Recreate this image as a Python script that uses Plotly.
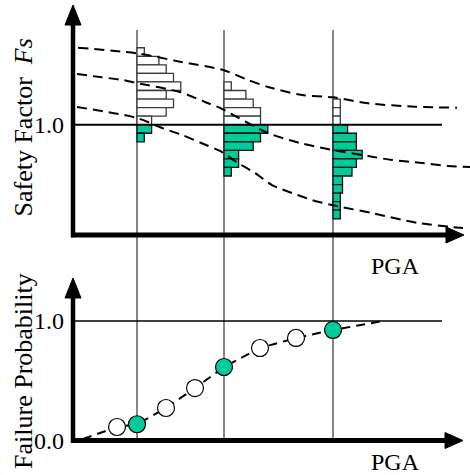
import plotly.graph_objects as go

# PGA values of the three sampled ground motions
PGA_LEVELS = [0.64, 1.51, 2.60]

# Safety-factor histograms at each PGA level, counts listed from the top bin down
SAFE_COUNTS = [
    [1, 3, 4, 5, 6, 4, 5, 4, 2],
    [1, 3, 4, 5, 5],
    [1, 1, 1],
]
FAIL_COUNTS = [
    [2, 1],
    [6, 5, 4, 2, 2, 1],
    [2, 3.2, 3.2, 4, 3.2, 2.6, 1.3, 1.3, 1, 1, 1],
]
FS_BIN = 0.0775
FS_LIMIT = 1.0

# Safety factor versus PGA trend curves
UPPER_PGA = [0.05, 0.64, 1.07, 1.50, 1.75, 1.95, 2.29, 2.60, 2.95, 3.42, 3.84]
UPPER_FS = [1.698, 1.647, 1.571, 1.496, 1.406, 1.342, 1.269, 1.248, 1.194, 1.163, 1.154]

MIDDLE_PGA = [0.04, 0.27, 0.50, 0.64, 1.07, 1.32, 1.47, 1.95, 2.27, 2.59, 2.95, 3.19, 3.49, 3.75, 3.97]
MIDDLE_FS = [1.460, 1.432, 1.405, 1.378, 1.296, 1.206, 1.152, 0.925, 0.834, 0.771, 0.716, 0.680, 0.653, 0.626, 0.617]

LOWER_PGA = [0.04, 0.64, 0.89, 1.09, 1.33, 1.47, 1.65, 1.82, 1.99, 2.19, 2.39, 2.59, 2.99, 3.45, 3.90]
LOWER_FS = [1.160, 1.061, 0.970, 0.907, 0.816, 0.762, 0.653, 0.562, 0.453, 0.381, 0.317, 0.272, 0.199, 0.109, 0.063]

# Failure probability curve
OPEN_PGA = [0.44, 0.93, 1.22, 1.87, 2.23]
OPEN_P = [0.113, 0.272, 0.439, 0.774, 0.858]
LEVEL_P = [0.136, 0.615, 0.925]
CURVE_START = (0.10, 0.013)
CURVE_END = (3.10, 1.0)

GREEN = "#00cc99"
SERIF = "Liberation Serif"
HIST_UNIT = 0.073  # PGA-axis length of one histogram count

fig = go.Figure()

# histograms (bars grow to the right of each PGA level)
for level, safe, fail in zip(PGA_LEVELS, SAFE_COUNTS, FAIL_COUNTS):
    n = len(safe)
    safe_y = [FS_LIMIT + FS_BIN * (n - 1 - k + 0.5) for k in range(n)]
    fail_y = [FS_LIMIT - FS_BIN * (k + 0.5) for k in range(len(fail))]
    fig.add_trace(go.Bar(
        orientation="h", y=safe_y, x=[c * HIST_UNIT for c in safe],
        base=[level] * n, width=FS_BIN, yaxis="y",
        marker=dict(color="white", line=dict(color="#3a3a3a", width=1.3)),
    ))
    fig.add_trace(go.Bar(
        orientation="h", y=fail_y, x=[c * HIST_UNIT for c in fail],
        base=[level] * len(fail), width=FS_BIN, yaxis="y",
        marker=dict(color=GREEN, line=dict(color="#111111", width=1.3)),
    ))

# dashed FS trend curves
for xs, ys in [(UPPER_PGA, UPPER_FS), (MIDDLE_PGA, MIDDLE_FS), (LOWER_PGA, LOWER_FS)]:
    fig.add_trace(go.Scatter(
        x=xs, y=ys, mode="lines", yaxis="y",
        line=dict(color="black", width=2, dash="10px,6px", shape="spline", smoothing=0.8),
    ))

# failure probability curve
pts = sorted([CURVE_START, CURVE_END] + list(zip(OPEN_PGA, OPEN_P)) + list(zip(PGA_LEVELS, LEVEL_P)))
fig.add_trace(go.Scatter(
    x=[p[0] for p in pts], y=[p[1] for p in pts], mode="lines", yaxis="y2",
    line=dict(color="black", width=2, dash="9px,6px"),
))
fig.add_trace(go.Scatter(
    x=OPEN_PGA, y=OPEN_P, mode="markers", yaxis="y2",
    marker=dict(size=17, color="white", line=dict(color="black", width=1.2)),
))
fig.add_trace(go.Scatter(
    x=PGA_LEVELS, y=LEVEL_P, mode="markers", yaxis="y2",
    marker=dict(size=17, color=GREEN, line=dict(color="black", width=1.2)),
))

shapes = []
# vertical guide lines through both panels
for level in PGA_LEVELS:
    shapes.append(dict(type="line", xref="x", yref="y2", x0=level, x1=level, y0=0, y1=3.435,
                       line=dict(color="#444444", width=1.3), layer="below"))
# FS = 1.0 and probability = 1.0 reference lines
shapes.append(dict(type="line", xref="x", yref="y", x0=0, x1=3.69, y0=FS_LIMIT, y1=FS_LIMIT,
                   line=dict(color="black", width=2)))
shapes.append(dict(type="line", xref="x", yref="y2", x0=0, x1=3.69, y0=1, y1=1,
                   line=dict(color="black", width=1.6)))


def arrow_axes(yref, y_top, x_right):
    """Thick axis lines with filled triangular heads."""
    return [
        dict(type="line", xref="x", yref=yref, x0=0, x1=0, y0=-0.02, y1=y_top * 0.93,
             line=dict(color="black", width=4.5)),
        dict(type="line", xref="x", yref=yref, x0=-0.02, x1=x_right - 0.1, y0=0, y1=0,
             line=dict(color="black", width=5)),
        dict(type="path", xref="x", yref=yref, xsizemode="pixel", ysizemode="pixel",
             xanchor=0, yanchor=y_top, path="M0,0 L-8,-20 L8,-20 Z",
             fillcolor="black", line=dict(color="black", width=1)),
        dict(type="path", xref="x", yref=yref, xsizemode="pixel", ysizemode="pixel",
             xanchor=x_right, yanchor=0, path="M0,0 L-18,8 L-18,-8 Z",
             fillcolor="black", line=dict(color="black", width=1)),
    ]


shapes += arrow_axes("y", 2.085, 3.91)
shapes += arrow_axes("y2", 1.36, 3.90)

label_font = dict(family=SERIF, size=24, color="black")
title_font = dict(family=SERIF, size=26, color="black")


def tick_label(text, yref, value):
    return dict(text=text, xref="x", yref=yref, x=0, y=value, xanchor="right", yanchor="middle",
                xshift=-7, showarrow=False, font=label_font)


annotations = [
    tick_label("1.0", "y", FS_LIMIT),
    tick_label("1.0", "y2", 1.0),
    tick_label("0.0", "y2", 0.0),
    dict(text="Safety Factor\u00a0\u00a0<i>Fs</i>", textangle=-90, xref="paper", yref="paper",
         x=0.049, y=0.7316, xanchor="center", yanchor="middle", showarrow=False, font=title_font),
    dict(text="Failure Probability", textangle=-90, xref="paper", yref="paper",
         x=0.051, y=0.219, xanchor="center", yanchor="middle", showarrow=False, font=title_font),
    dict(text="PGA", xref="paper", yref="paper", x=0.8415, y=0.44,
         xanchor="center", yanchor="middle", showarrow=False, font=label_font),
    dict(text="PGA", xref="paper", yref="paper", x=0.8415, y=0.0284,
         xanchor="center", yanchor="middle", showarrow=False, font=label_font),
]

fig.update_layout(
    width=470, height=475,
    margin=dict(l=0, r=0, t=0, b=0),
    paper_bgcolor="white", plot_bgcolor="white",
    showlegend=False, barmode="overlay",
    xaxis=dict(range=[-0.73, 3.97], visible=False),
    yaxis=dict(range=[-2.1759, 2.1306], visible=False),
    yaxis2=dict(range=[-0.2887, 3.6862], overlaying="y", anchor="x", visible=False),
    shapes=shapes,
    annotations=annotations,
)

fig.write_html("out.html")
